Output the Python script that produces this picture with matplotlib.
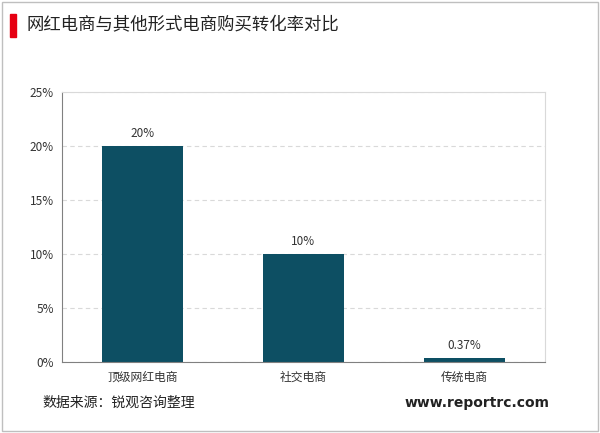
import matplotlib
matplotlib.use("Agg")
import matplotlib.pyplot as plt
from matplotlib.patches import Rectangle

plt.rcParams['font.family'] = ['Noto Sans CJK SC', 'DejaVu Sans']

categories = ["顶级网红电商", "社交电商", "传统电商"]
values = [20, 10, 0.37]
labels = ["20%", "10%", "0.37%"]
yticks = [0, 5, 10, 15, 20, 25]

fig = plt.figure(figsize=(6, 4.33), dpi=100)
W, H = 600, 433
# outer frame
fig.patches.append(Rectangle((2/W, 2/H), 596/W, 429/H, transform=fig.transFigure,
                             fill=False, edgecolor="#bfbfbf", linewidth=1))
# title bar
fig.patches.append(Rectangle((10/W, 1-37/H), 6/W, 23/H, transform=fig.transFigure,
                             color="#e60012"))
fig.text(26/W, 1-25/H, "网红电商与其他形式电商购买转化率对比", fontsize=12.5,
         va="center", ha="left", color="#222222")

ax = fig.add_axes([62/W, 1-362/H, (545-62)/W, (362-92)/H])
x = range(len(categories))
bars = ax.bar(x, values, width=0.5, color="#0d4f63")
for i, (v, l) in enumerate(zip(values, labels)):
    ax.text(i, v + 0.6, l, ha="center", va="bottom", fontsize=8.5, color="#333333")
ax.set_xlim(-0.5, 2.5)
ax.set_ylim(0, 25)
ax.set_yticks(yticks)
ax.set_yticklabels([f"{t}%" for t in yticks], fontsize=8.5, color="#333333")
ax.set_xticks(list(x))
ax.set_xticklabels(categories, fontsize=8.5, color="#333333")
ax.tick_params(length=0, pad=6)
ax.yaxis.grid(True, linestyle=(0, (4, 3)), color="#d9d9d9", linewidth=0.8)
ax.set_axisbelow(True)
for s in ["top", "right"]:
    ax.spines[s].set_color("#d9d9d9")
ax.spines["left"].set_color("#808080")
ax.spines["bottom"].set_color("#808080")

fig.text(42/W, 1-403/H, "数据来源：锐观咨询整理", fontsize=10, va="center", ha="left", color="#222222")
fig.text(550/W, 1-403/H, "www.reportrc.com", fontsize=10, va="center", ha="right",
         color="#222222", fontweight="bold", family="DejaVu Sans")

fig.savefig("out.png", dpi=100)
